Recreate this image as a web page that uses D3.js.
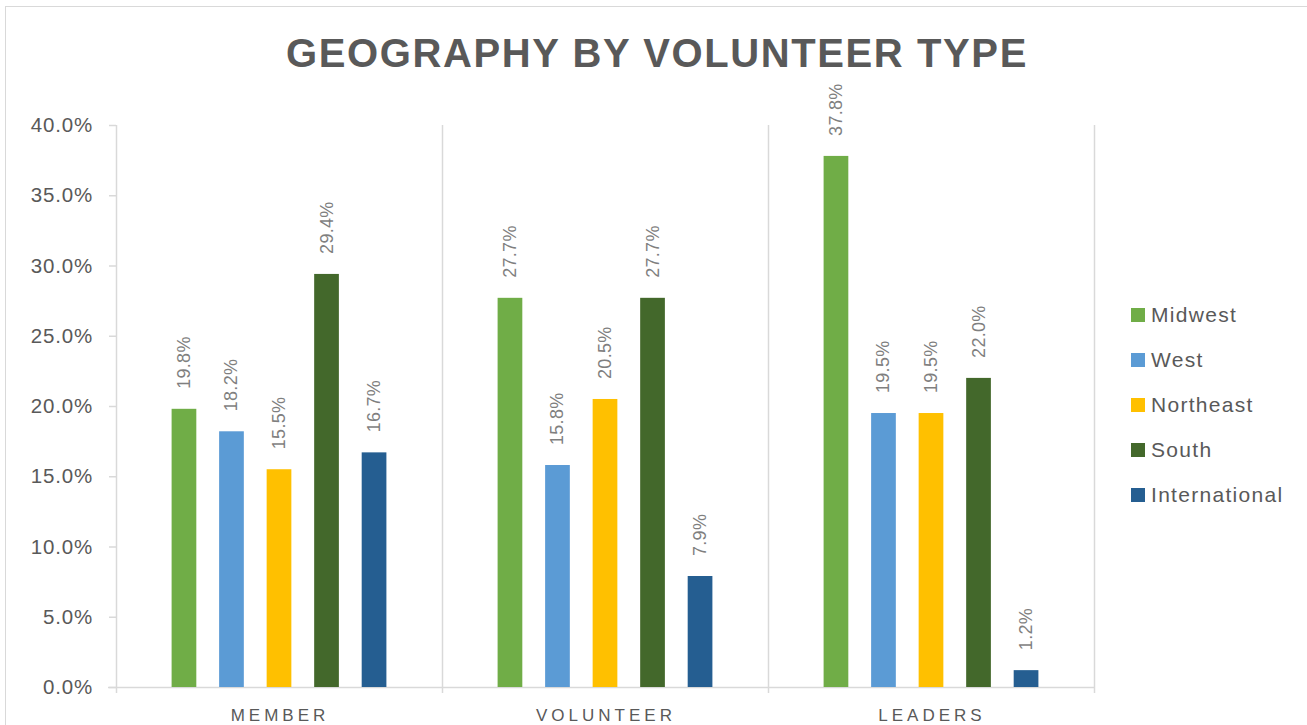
<!DOCTYPE html>
<html>
<head>
<meta charset="utf-8">
<script src="https://cdn.jsdelivr.net/npm/d3@7"></script>
<style>
html,body{margin:0;padding:0;background:#fff;}
svg{display:block;}
text{font-family:"Liberation Sans",Arial,sans-serif;}
</style>
</head>
<body>
<svg id="chart" width="1307" height="725"></svg>
<script>
const categories = ["MEMBER", "VOLUNTEER", "LEADERS"];
const seriesNames = ["Midwest", "West", "Northeast", "South", "International"];
const seriesColors = ["#70AD47", "#5B9BD5", "#FFC000", "#43682B", "#255E91"];
const midwest = [19.8, 27.7, 37.8];
const west = [18.2, 15.8, 19.5];
const northeast = [15.5, 20.5, 19.5];
const south = [29.4, 27.7, 22.0];
const international = [16.7, 7.9, 1.2];
const yTicks = [0, 5, 10, 15, 20, 25, 30, 35, 40];
const title = "GEOGRAPHY BY VOLUNTEER TYPE";

const seriesValues = [midwest, west, northeast, south, international];

const svg = d3.select("#chart");
const margin = {left: 116, right: 1094, top: 125, bottom: 687};

// outer chart border
svg.append("rect").attr("x", 5.5).attr("y", 6.5).attr("width", 1320).attr("height", 740)
  .attr("fill", "none").attr("stroke", "#d9d9d9").attr("stroke-width", 1);

const x0 = d3.scaleBand().domain(categories).range([margin.left, margin.right]).padding(0);
const x1 = d3.scaleBand().domain(seriesNames).range([0, x0.bandwidth()]).paddingInner(0.48).paddingOuter(1.17);
const y = d3.scaleLinear().domain([0, 40]).range([margin.bottom, margin.top]);

// title
svg.append("text").attr("x", 657).attr("y", 67).attr("text-anchor", "middle")
  .style("font-size", "40px").attr("font-weight", "bold").attr("fill", "#595959")
  .attr("letter-spacing", "1.6px").text(title);

// vertical separators (category boundaries)
const bounds = categories.map(c => x0(c)).concat([margin.right]);
svg.append("g").selectAll("line").data(bounds).join("line")
  .attr("x1", d => d + 0.5).attr("x2", d => d + 0.5)
  .attr("y1", margin.top).attr("y2", margin.bottom + 6)
  .attr("stroke", "#d9d9d9").attr("stroke-width", 1.5);

// y axis
const yAxis = d3.axisLeft(y).tickValues(yTicks).tickSize(7).tickPadding(16)
  .tickFormat(d => d.toFixed(1) + "%");
const gy = svg.append("g").attr("transform", `translate(${margin.left},0)`).call(yAxis);
gy.attr("font-size", null).attr("font-family", null);
gy.select(".domain").remove();
gy.selectAll(".tick line").attr("stroke", "#d9d9d9").attr("stroke-width", 1.5);
gy.selectAll(".tick text").style("font-size", "20.5px").attr("fill", "#595959")
  .attr("letter-spacing", "0.8px");

// x axis baseline
svg.append("line").attr("x1", margin.left - 8).attr("x2", margin.right + 1)
  .attr("y1", margin.bottom + 0.5).attr("y2", margin.bottom + 0.5)
  .attr("stroke", "#d9d9d9").attr("stroke-width", 1.5);

// category labels
svg.append("g").selectAll("text").data(categories).join("text")
  .attr("x", d => x0(d) + x0.bandwidth() / 2 + 1).attr("y", 721)
  .attr("text-anchor", "middle").style("font-size", "17px").attr("fill", "#595959")
  .attr("letter-spacing", "4px").text(d => d);

// bars
const groups = svg.append("g").selectAll("g").data(categories).join("g")
  .attr("transform", d => `translate(${x0(d)},0)`);

groups.selectAll("rect").data((c, ci) => seriesNames.map((s, si) => ({s, si, v: seriesValues[si][ci]})))
  .join("rect")
  .attr("x", d => x1(d.s)).attr("width", x1.bandwidth())
  .attr("y", d => y(d.v)).attr("height", d => y(0) - y(d.v))
  .attr("fill", d => seriesColors[d.si]);

groups.selectAll("text.lbl").data((c, ci) => seriesNames.map((s, si) => ({s, si, v: seriesValues[si][ci]})))
  .join("text").attr("class", "lbl")
  .attr("transform", d => `translate(${x1(d.s) + x1.bandwidth() / 2 + 6},${y(d.v) - 20}) rotate(-90)`)
  .style("font-size", "18px").attr("fill", "#7f7f7f").attr("letter-spacing", "0.3px")
  .text(d => d.v.toFixed(1) + "%");

// legend
const legend = svg.append("g").selectAll("g").data(seriesNames).join("g")
  .attr("transform", (d, i) => `translate(1131,${315 + i * 45})`);
legend.append("rect").attr("x", 0).attr("y", -7).attr("width", 14).attr("height", 14)
  .attr("fill", (d, i) => seriesColors[i]);
legend.append("text").attr("x", 20).attr("y", 7).style("font-size", "21px")
  .attr("fill", "#595959").attr("letter-spacing", "1.3px").text(d => d);
</script>
</body>
</html>
